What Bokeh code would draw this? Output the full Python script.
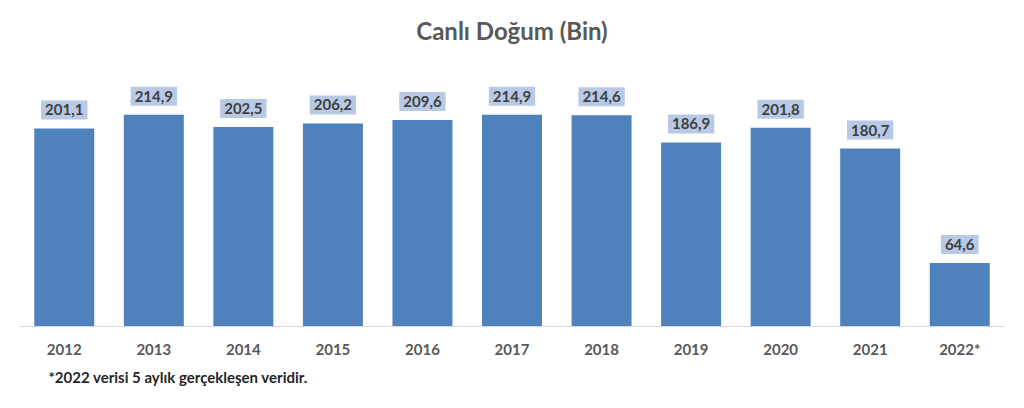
from bokeh.plotting import figure
from bokeh.models import ColumnDataSource, Title, Label, Range1d, FactorRange
from bokeh.core.properties import value
from bokeh.embed import file_html
from bokeh.resources import INLINE

years = ["2012", "2013", "2014", "2015", "2016", "2017", "2018", "2019", "2020", "2021", "2022*"]
values = [201.1, 214.9, 202.5, 206.2, 209.6, 214.9, 214.6, 186.9, 201.8, 180.7, 64.6]
value_labels = ["201,1", "214,9", "202,5", "206,2", "209,6", "214,9", "214,6", "186,9", "201,8", "180,7", "64,6"]
title_text = "Canlı Doğum (Bin)"
footnote_text = "*2022 verisi 5 aylık gerçekleşen veridir."

FONT = "Lato"

src = ColumnDataSource(dict(year=years, value=values, label=value_labels))

p = figure(
    width=1024, height=408, title=None,
    x_range=FactorRange(*years, range_padding=0),
    y_range=Range1d(0, 331),
    output_backend="svg", toolbar_location=None,
    min_border_left=19, min_border_right=20, min_border_top=0, min_border_bottom=82,
)
p.x_range.factor_padding = 0
p.outline_line_color = None
p.background_fill_color = "white"
p.border_fill_color = "white"

p.vbar(x="year", top="value", width=0.67, source=src, color="#4F81BD", line_color=None)

p.text(
    x="year", y="value", text="label", source=src,
    text_align="center", text_baseline="bottom", y_offset=-9,
    text_font=value(FONT), text_font_size="15px", text_font_style="bold", text_color="#404040",
    background_fill_color="#B7C9E5", padding=4,
)

p.yaxis.visible = False
p.ygrid.visible = False
p.xgrid.visible = False

ax = p.xaxis[0]
ax.axis_line_color = "#D9D9D9"
ax.axis_line_width = 1
ax.major_tick_line_color = None
ax.minor_tick_line_color = None
ax.major_label_standoff = 7
ax.major_label_text_font = FONT
ax.major_label_text_font_size = "15px"
ax.major_label_text_font_style = "bold"
ax.major_label_text_color = "#595959"

main_title = Label(
    x=5.5, y=301, text=title_text, text_align="center", text_baseline="middle",
    text_font=FONT, text_font_size="24px", text_font_style="bold", text_color="#595959",
)
p.add_layout(main_title)

foot = Title(
    text=footnote_text, align="left", offset=29, standoff=11,
    text_font=FONT, text_font_size="15px", text_font_style="bold", text_color="#262626",
)
p.add_layout(foot, "below")

open("out.html", "w").write(file_html(p, INLINE))
